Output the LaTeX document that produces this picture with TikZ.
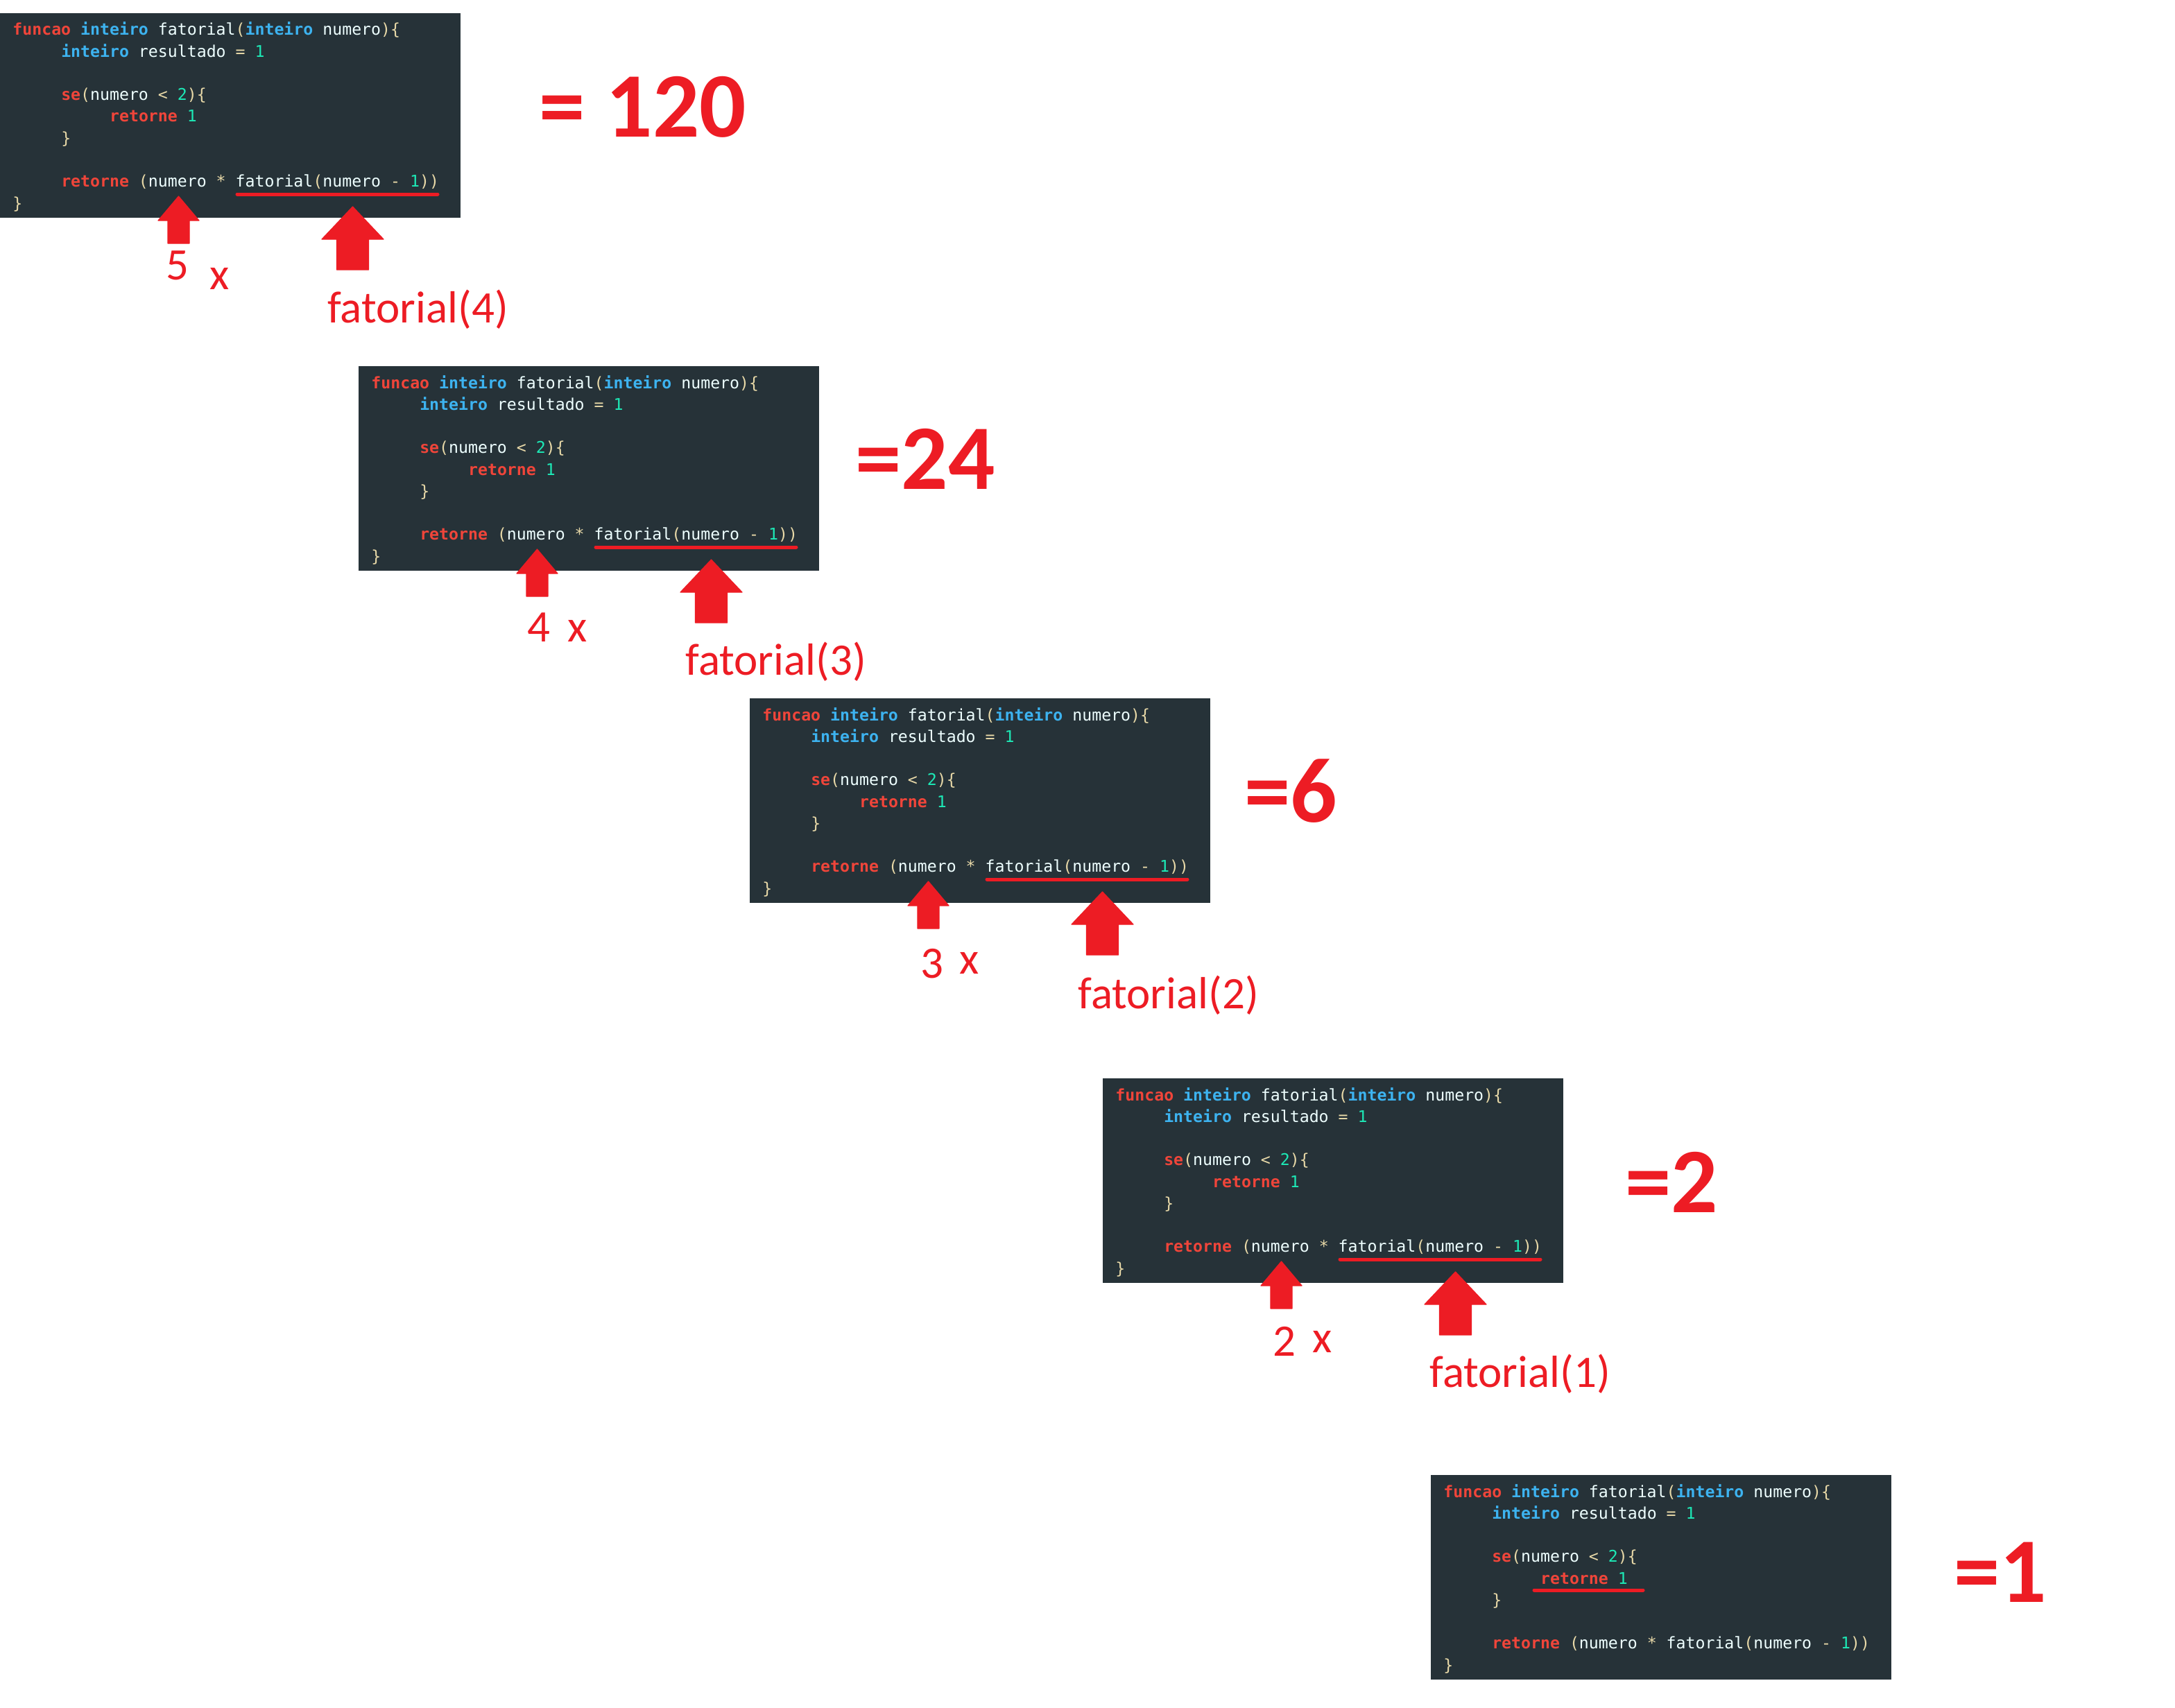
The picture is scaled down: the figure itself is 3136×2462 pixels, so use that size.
\documentclass[tikz,border=0pt]{standalone}
\usepackage{fontspec}
\setmainfont{Carlito}
\newfontfamily\codefont{DejaVu Sans Mono}
\definecolor{codebg}{HTML}{263238}
\definecolor{codefg}{HTML}{EEFFFF}
\definecolor{kwred}{HTML}{F0453A}
\definecolor{tyblue}{HTML}{3DB3F0}
\definecolor{numteal}{HTML}{1DE9B6}
\definecolor{punc}{HTML}{E8D9A8}
\definecolor{myred}{HTML}{ED1C24}

\newcommand\ckw[1]{\textcolor{kwred}{\bfseries #1}}
\newcommand\cty[1]{\textcolor{tyblue}{\bfseries #1}}
\newcommand\cnum[1]{\textcolor{numteal}{#1}}
\newcommand\cpun[1]{\textcolor{punc}{#1}}

\tikzset{
  codebox/.style={fill=codebg, draw=none, minimum width=332pt, minimum height=147.5pt,
    inner sep=0pt, outer sep=0pt, anchor=north west},
  codeline/.style={anchor=base west, inner sep=0pt, text=codefg,
    font=\codefont\fontsize{11.6pt}{14pt}\selectfont},
  lbl/.style={anchor=base west, inner sep=0pt, text=myred,
    font=\fontsize{32.5pt}{37pt}\selectfont},
  result/.style={anchor=base west, inner sep=0pt, text=myred,
    font=\bfseries\fontsize{66.5pt}{72pt}\selectfont},
  uline/.style={draw=myred, line width=2.5pt, line cap=round},
  blockarrow/.style={fill=myred, draw=myred, line width=0.6pt, line join=round}
}

\newcommand\codeblock[3]{%
  \node[codebox] (#1) at (#2,#3) {};
  \begin{scope}[shift={(#2,#3)}]
    \node[codeline] (#1-l1) at (18,32) {\ckw{funcao} \cty{inteiro} fatorial\cpun{(}\cty{inteiro} numero\cpun{)\{}};
    \node[codeline] (#1-l2) at (87.85,63.25) {\cty{inteiro} resultado \cpun{=} \cnum{1}};
    \node[codeline] (#1-l4) at (87.85,125.75) {\ckw{se}\cpun{(}numero \cpun{<} \cnum{2}\cpun{)\{}};
    \node[codeline] (#1-l5) at (157.7,157) {\ckw{retorne} \cnum{1}};
    \node[codeline] (#1-l6) at (87.85,188.25) {\cpun{\}}};
    \node[codeline] (#1-l8) at (87.85,250.75) {\ckw{retorne} \cpun{(}numero \cpun{*} fatorial\cpun{(}numero \cpun{-} \cnum{1}\cpun{))}};
    \node[codeline] (#1-l9) at (18,282) {\cpun{\}}};
  \end{scope}}

\newcommand\callmarks[3]{%
  \begin{scope}[shift={(#2,#3)}]
    \draw[uline] (342,-34) coordinate (#1-ua) -- (631,-34) coordinate (#1-ub);
    \filldraw[blockarrow] (257.5,-31) -- (287,4) -- (273,4) -- (273,37) -- (242,37) -- (242,4) -- (228,4) -- cycle;
    \filldraw[blockarrow] (508.5,-16) -- (553,31) -- (531.5,31) -- (531.5,75) -- (485.5,75) -- (485.5,31) -- (464,31) -- cycle;
  \end{scope}}

\begin{document}
\begin{tikzpicture}[x=0.5pt, y=-0.5pt]
  \fill[white] (0,0) rectangle (3136,2462);
  \useasboundingbox (0,0) rectangle (3136,2462);

  % code blocks
  \codeblock{b1}{0}{19}
  \codeblock{b2}{517}{528}
  \codeblock{b3}{1081}{1007}
  \codeblock{b4}{1590}{1555}
  \codeblock{b5}{2063}{2127}

  % underlines and arrows
  \callmarks{b1}{0}{314}
  \callmarks{b2}{517}{823}
  \callmarks{b3}{1081}{1302}
  \callmarks{b4}{1590}{1850}
  \draw[uline] (2212,2293) coordinate (b5-ua) -- (2369,2293) coordinate (b5-ub);

  % labels under arrows
  \node[lbl] (n1) at (239,403) {5};
  \node[lbl] (x1) at (302,417) {x};
  \node[lbl] (f1) at (472,465) {fatorial(4)};

  \node[lbl] (n2) at (760,925) {4};
  \node[lbl] (x2) at (818,925) {x};
  \node[lbl] (f2) at (988,973) {fatorial(3)};

  \node[lbl] (n3) at (1327,1410) {3};
  \node[lbl] (x3) at (1383,1404) {x};
  \node[lbl] (f3) at (1554,1454) {fatorial(2)};

  \node[lbl] (n4) at (1835,1955) {2};
  \node[lbl] (x4) at (1892,1950) {x};
  \node[lbl] (f4) at (2061,2000) {fatorial(1)};

  % results
  \node[result] (r1) at (777,197) {= 120};
  \node[result] (r2) at (1233,705) {=24};
  \node[result] (r3) at (1794,1185) {=6};
  \node[result] (r4) at (2343,1748) {=2};
  \node[result] (r5) at (2817,2310) {=1};
\end{tikzpicture}
\end{document}
